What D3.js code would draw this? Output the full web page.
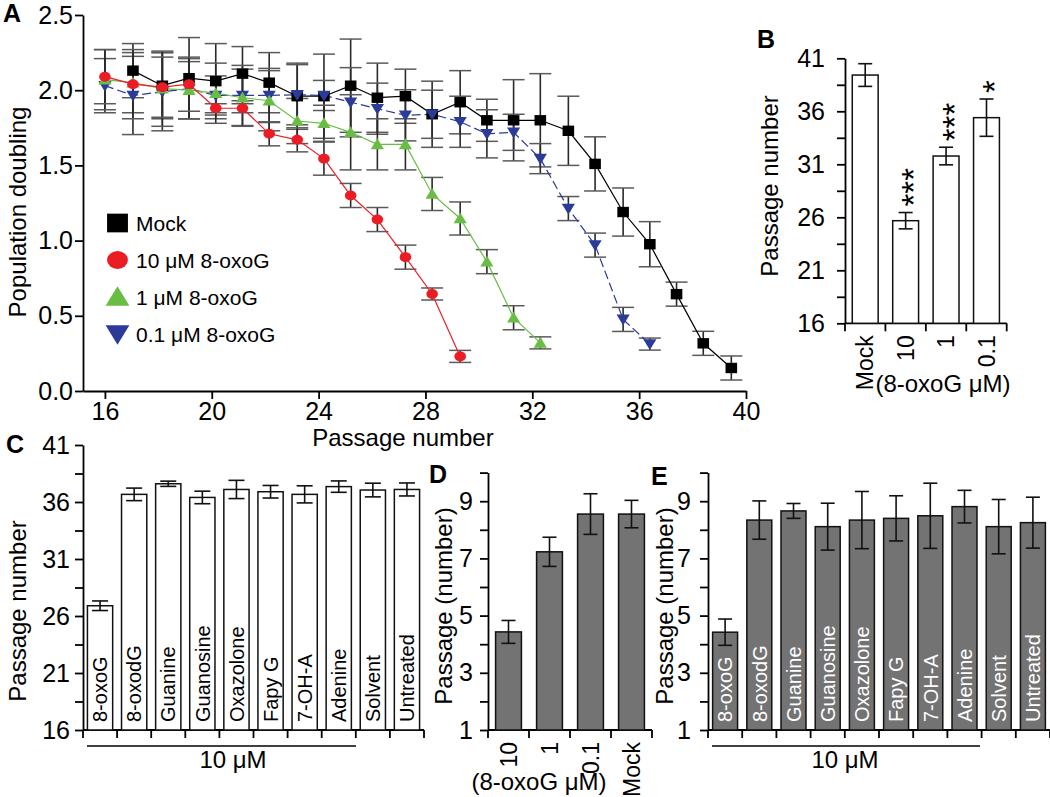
<!DOCTYPE html>
<html><head><meta charset="utf-8">
<script src="https://cdn.jsdelivr.net/npm/d3@7"></script>
<style>
body{margin:0;background:#fff}
svg{display:block}
text{font-family:"Liberation Sans",Arial,Helvetica,sans-serif;fill:#000}
</style>
</head><body>
<svg id="chart" width="1050" height="797"></svg>
<script>
// ---------------- DATA ----------------
// Panel A: population doubling vs passage number
const passageX = [16, 17.05, 18.15, 19.15, 20.15, 21.15, 22.15, 23.2, 24.2, 25.2, 26.2, 27.25,
                  28.25, 29.3, 30.3, 31.3, 32.3, 33.35, 34.35, 35.4, 36.4, 37.4, 38.4, 39.45];
const mockX   = [17.05, 18.15, 19.15, 20.15, 21.15, 22.15, 23.2, 24.2, 25.2, 26.2, 27.25,
                 28.25, 29.3, 30.3, 31.3, 32.3, 33.35, 34.35, 35.4, 36.4, 37.4, 38.4, 39.45];
const mockY   = [2.13, 2.03, 2.08, 2.06, 2.11, 2.05, 1.96, 1.96, 2.03, 1.95, 1.96,
                 1.84, 1.92, 1.80, 1.80, 1.80, 1.73, 1.51, 1.19, 0.976, 0.644, 0.317, 0.153];
const mockErr = [0.18, 0.22, 0.27, 0.25, 0.18, 0.20, 0.22, 0.28, 0.31, 0.23, 0.18,
                 0.22, 0.21, 0.14, 0.27, 0.31, 0.23, 0.18, 0.16, 0.15, 0.08, 0.08, 0.08];
const oxo10Y   = [2.09, 2.04, 2.02, 2.04, 1.88, 1.88, 1.71, 1.67, 1.545, 1.30, 1.14, 0.89, 0.645, 0.23];
const oxo10Err = [0.18, 0.23, 0.20, 0.18, 0.03, 0.03, 0.08, 0.08, 0.11, 0.08, 0.08, 0.08, 0.04, 0.04];
const oxo1Y    = [2.07, 2.05, 2.01, 2.00, 1.98, 1.95, 1.93, 1.795, 1.78, 1.72, 1.64, 1.64, 1.31, 1.147, 0.86, 0.487, 0.32];
const oxo1Err  = [0.20, 0.20, 0.25, 0.19, 0.20, 0.19, 0.20, 0.15, 0.12, 0.25, 0.17, 0.17, 0.11, 0.11, 0.08, 0.08, 0.04];
const oxo01Y   = [2.03, 1.965, 1.99, 2.01, 1.965, 1.965, 1.965, 1.97, 1.965, 1.92, 1.877, 1.833,
                  1.84, 1.79, 1.71, 1.72, 1.545, 1.213, 0.97, 0.476, 0.312];
const oxo01Err = [0.18, 0.26, 0.26, 0.20, 0.13, 0.20, 0.18, 0.20, 0.10, 0.23, 0.17, 0.17,
                  0.16, 0.17, 0.16, 0.12, 0.10, 0.08, 0.08, 0.08, 0.04];
const aLegend = ["Mock", "10 μM 8-oxoG", "1 μM 8-oxoG", "0.1 μM 8-oxoG"];
const aTicksY = [0, 0.5, 1.0, 1.5, 2.0, 2.5];
const aTicksX = [16, 20, 24, 28, 32, 36, 40];

// Panel B
const bCats  = ["Mock", "10", "1", "0.1"];
const bVals  = [39.42, 25.68, 31.78, 35.4];
const bErr   = [1.07, 0.77, 0.83, 1.76];
const bStars = ["", "***", "***", "*"];
// Panel C
const cCats = ["8-oxoG", "8-oxodG", "Guanine", "Guanosine", "Oxazolone", "Fapy G", "7-OH-A", "Adenine", "Solvent", "Untreated"];
const cVals = [26.9, 36.67, 37.6, 36.4, 37.1, 36.9, 36.67, 37.35, 37.05, 37.1];
const cErr  = [0.42, 0.55, 0.23, 0.55, 0.8, 0.55, 0.75, 0.5, 0.6, 0.57];
const passTicks  = [16, 18.5, 21, 23.5, 26, 28.5, 31, 33.5, 36, 38.5, 41];
const passLabels = [16, 21, 26, 31, 36, 41];
// Panel D
const dCats = ["10", "1", "0.1", "Mock"];
const dVals = [4.43, 7.23, 8.55, 8.55];
const dErr  = [0.40, 0.51, 0.71, 0.48];
// Panel E
const eCats = cCats;
const eVals = [4.42, 8.34, 8.66, 8.11, 8.34, 8.40, 8.49, 8.81, 8.11, 8.25];
const eErr  = [0.46, 0.67, 0.26, 0.82, 1.0, 0.79, 1.14, 0.57, 0.95, 0.89];
const numTicks  = [1, 2, 3, 4, 5, 6, 7, 8, 9, 10];
const numLabels = [1, 3, 5, 7, 9];

// ---------------- DRAW ----------------
const svg = d3.select("#chart");
const FONT = 24;
const AX_W = 1.8;

function styleAxis(g, fs) {
  g.selectAll("path.domain").attr("stroke", "#000").attr("stroke-width", AX_W);
  g.selectAll(".tick line").attr("stroke", "#000").attr("stroke-width", AX_W);
  g.selectAll(".tick text").attr("font-size", fs || FONT).attr("fill", "#000")
    .attr("font-family", '"Liberation Sans",Arial,sans-serif');
}
function panelLabel(t, x, y) {
  svg.append("text").attr("x", x).attr("y", y).attr("font-size", 25).attr("font-weight", "bold").text(t);
}
function rotLabel(t, x, y, fs) {
  svg.append("text").attr("transform", `translate(${x},${y}) rotate(-90)`)
    .attr("text-anchor", "middle").attr("font-size", fs || FONT).text(t);
}

// ===== Panel A =====
const xA = d3.scaleLinear().domain([15.18, 40]).range([83, 746]);
const yA = d3.scaleLinear().domain([0, 2.5]).range([391, 15]);
const gA = svg.append("g");
gA.append("g").attr("transform", "translate(83,0)")
  .call(d3.axisLeft(yA).tickValues(aTicksY).tickFormat(d3.format(".1f")).tickSize(8).tickSizeOuter(0).tickPadding(2))
  .call(g => styleAxis(g, 25));
gA.append("g").attr("transform", "translate(0,391)")
  .call(d3.axisBottom(xA).tickValues(aTicksX).tickSize(8).tickSizeOuter(0).tickPadding(3))
  .call(g => styleAxis(g, 25));
svg.append("text").attr("x", 403).attr("y", 446).attr("text-anchor", "middle").attr("font-size", FONT).text("Passage number");
rotLabel("Population doubling", 26, 212);
panelLabel("A", 3, 22);

const series = [
  {name: aLegend[0], x: mockX,    y: mockY,  e: mockErr,  color: "#000000", dash: null,  shape: "square"},
  {name: aLegend[3], x: passageX, y: oxo01Y, e: oxo01Err, color: "#2b3c98", dash: "9,4", shape: "down"},
  {name: aLegend[2], x: passageX, y: oxo1Y,  e: oxo1Err,  color: "#69bd45", dash: null,  shape: "up"},
  {name: aLegend[1], x: passageX, y: oxo10Y, e: oxo10Err, color: "#ec1c24", dash: null,  shape: "circle"}
];
function shapePath(shape, s) {
  if (shape === "square") return `M${-5.8*s},${-5.2*s}h${11.6*s}v${10.4*s}h${-11.6*s}Z`;
  if (shape === "up") return `M0,${-6*s}L${6.6*s},${4.8*s}L${-6.6*s},${4.8*s}Z`;
  if (shape === "down") return `M0,${6*s}L${6.6*s},${-4.8*s}L${-6.6*s},${-4.8*s}Z`;
  return null;
}
function drawMarker(g, shape, color, x, y, s) {
  if (shape === "circle") {
    g.append("ellipse").attr("cx", x).attr("cy", y).attr("rx", 5.8*s).attr("ry", 5*s).attr("fill", color);
  } else {
    g.append("path").attr("transform", `translate(${x},${y})`).attr("d", shapePath(shape, s)).attr("fill", color);
  }
}
// error bars
const errG = gA.append("g");
series.forEach(sr => {
  sr.y.forEach((v, i) => {
    const x = xA(sr.x[i]), y1 = yA(v + sr.e[i]), y2 = yA(v - sr.e[i]);
    errG.append("line").attr("x1", x).attr("x2", x).attr("y1", y1).attr("y2", y2)
      .attr("stroke", "#2a2a2a").attr("stroke-width", 1.6);
    [y1, y2].forEach(yy => errG.append("line").attr("x1", x - 11).attr("x2", x + 11)
      .attr("y1", yy).attr("y2", yy).attr("stroke", "#5a5a5a").attr("stroke-width", 1.5));
  });
});
// lines
const lineGen = d3.line().x(d => xA(d[0])).y(d => yA(d[1]));
series.forEach(sr => {
  const pts = sr.y.map((v, i) => [sr.x[i], v]);
  gA.append("path").attr("d", lineGen(pts)).attr("fill", "none").attr("stroke", sr.color)
    .attr("stroke-width", 1.2).attr("stroke-dasharray", sr.dash);
});
// markers
series.forEach(sr => {
  sr.y.forEach((v, i) => drawMarker(gA, sr.shape, sr.color, xA(sr.x[i]), yA(v), 1));
});
// legend
const legOrder = [series[0], series[3], series[2], series[1]];
legOrder.forEach((sr, i) => {
  const cy = 223 + i * 37;
  drawMarker(svg, sr.shape, sr.color, 117.5, cy, 1.8);
  svg.append("text").attr("x", 136).attr("y", cy + 8).attr("font-size", 21).text(sr.name);
});

// ===== generic bar panel =====
function barPanel(opt) {
  const g = svg.append("g");
  const y = d3.scaleLinear().domain(opt.yDomain).range([opt.y0, opt.y1]);
  const x = d3.scaleBand().domain(opt.cats).range([opt.x0, opt.x1]).paddingInner(opt.pad).paddingOuter(opt.pad / 2);
  g.append("g").attr("transform", `translate(${opt.x0},0)`)
    .call(d3.axisLeft(y).tickValues(opt.ticks).tickSize(8).tickSizeOuter(0).tickPadding(opt.tickPad)
      .tickFormat(d => opt.labels.includes(d) ? String(d) : ""))
    .call(g => styleAxis(g, 25));
  g.append("line").attr("x1", opt.x0).attr("x2", opt.x1).attr("y1", opt.y0).attr("y2", opt.y0)
    .attr("stroke", "#000").attr("stroke-width", AX_W);
  const step = x.step();
  const bounds = opt.cats.map(c => x(c) - step * opt.pad / 2).concat([x(opt.cats[opt.cats.length - 1]) + x.bandwidth() + step * opt.pad / 2]);
  bounds.forEach(b => g.append("line").attr("x1", b).attr("x2", b).attr("y1", opt.y0).attr("y2", opt.y0 + 8)
    .attr("stroke", "#000").attr("stroke-width", AX_W));
  opt.cats.forEach((c, i) => {
    const v = opt.vals[i];
    g.append("rect").attr("x", x(c)).attr("width", x.bandwidth()).attr("y", y(v)).attr("height", y(opt.yDomain[0]) - y(v))
      .attr("fill", opt.fill).attr("stroke", "#111").attr("stroke-width", 1.5);
    const cx = x(c) + x.bandwidth() / 2, e = opt.err[i];
    g.append("line").attr("x1", cx).attr("x2", cx).attr("y1", y(v + e)).attr("y2", y(v - e)).attr("stroke", "#111").attr("stroke-width", 1.6);
    [v + e, v - e].forEach(vv => g.append("line").attr("x1", cx - opt.cap).attr("x2", cx + opt.cap)
      .attr("y1", y(vv)).attr("y2", y(vv)).attr("stroke", "#111").attr("stroke-width", 1.6));
    if (opt.inside) {
      g.append("text").attr("transform", `translate(${cx},${opt.y0 - 8}) rotate(-90)`).attr("dy", "0.36em")
        .attr("font-size", 20).style("fill", opt.insideColor).text(c);
    }
    if (opt.below) {
      g.append("text").attr("transform", `translate(${cx},${opt.y0 + 12}) rotate(-90)`).attr("dy", "0.36em")
        .attr("text-anchor", "end").attr("font-size", 23).text(c);
    }
    if (opt.stars && opt.stars[i]) {
      g.append("text").attr("transform", `translate(${cx},${y(v + e) - 6}) rotate(-90)`).attr("dy", "0.6em")
        .attr("font-size", 33).text(opt.stars[i]);
    }
  });
  return {x, y};
}

// ===== Panel B =====
barPanel({cats: bCats, vals: bVals, err: bErr, stars: bStars, yDomain: [16, 41], y0: 323.3, y1: 58.3,
  x0: 845, x1: 1006.7, pad: 0.36, ticks: passTicks, labels: passLabels, tickPad: 12, fill: "#fff", cap: 7, below: true});
svg.append("text").attr("x", 943).attr("y", 392).attr("text-anchor", "middle").attr("font-size", FONT).text("(8-oxoG μM)");
rotLabel("Passage number", 778, 186);
panelLabel("B", 757, 48);

// ===== Panel C =====
barPanel({cats: cCats, vals: cVals, err: cErr, yDomain: [16, 41], y0: 730, y1: 445,
  x0: 83, x1: 424, pad: 0.26, ticks: passTicks, labels: passLabels, tickPad: 5, fill: "#fff", cap: 8,
  inside: true, insideColor: "#000"});
svg.append("line").attr("x1", 87).attr("x2", 356).attr("y1", 746).attr("y2", 746).attr("stroke", "#000").attr("stroke-width", 1.5);
svg.append("text").attr("x", 233).attr("y", 768).attr("text-anchor", "middle").attr("font-size", FONT).text("10 μM");
rotLabel("Passage number", 26, 611);
panelLabel("C", 6, 453);

// ===== Panel D =====
barPanel({cats: dCats, vals: dVals, err: dErr, yDomain: [1, 10], y0: 730, y1: 472.6,
  x0: 488, x1: 652, pad: 0.37, ticks: numTicks, labels: numLabels, tickPad: 7, fill: "#737373", cap: 7, below: true});
svg.append("text").attr("x", 539).attr("y", 790).attr("text-anchor", "middle").attr("font-size", FONT).text("(8-oxoG μM)");
rotLabel("Passage (number)", 452, 606);
panelLabel("D", 429, 483);

// ===== Panel E =====
barPanel({cats: eCats, vals: eVals, err: eErr, yDomain: [1, 10], y0: 730, y1: 472.6,
  x0: 708, x1: 1050, pad: 0.27, ticks: numTicks, labels: numLabels, tickPad: 9, fill: "#737373", cap: 7,
  inside: true, insideColor: "#fff"});
svg.append("line").attr("x1", 712).attr("x2", 980).attr("y1", 746).attr("y2", 746).attr("stroke", "#000").attr("stroke-width", 1.5);
svg.append("text").attr("x", 845).attr("y", 768).attr("text-anchor", "middle").attr("font-size", FONT).text("10 μM");
rotLabel("Passage (number)", 673, 606);
panelLabel("E", 651, 485);
</script>
</body></html>
